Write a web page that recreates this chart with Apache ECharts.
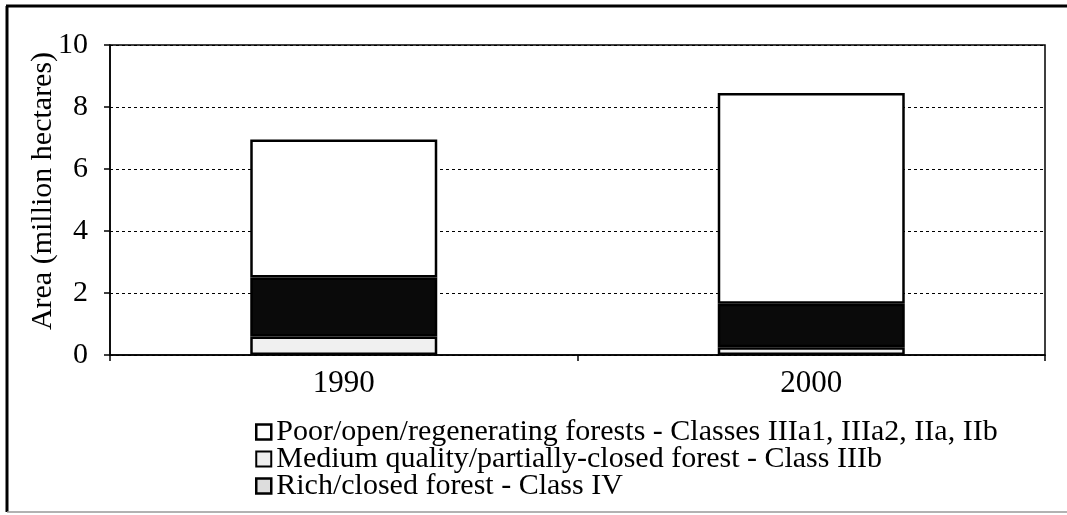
<!DOCTYPE html>
<html>
<head>
<meta charset="utf-8">
<script src="https://cdn.jsdelivr.net/npm/echarts@6/dist/echarts.min.js"></script>
<style>
  html, body { margin: 0; padding: 0; background: #fff; }
  #chart { width: 1067px; height: 515px; }
</style>
</head>
<body>
<div id="chart"></div>
<script>
// data (million hectares)
var years = ['1990', '2000']
var richClosed = [0.6, 0.25]
var mediumQuality = [1.9, 1.4]
var poorOpen = [4.45, 6.8]
var yTicks = [0, 2, 4, 6, 8, 10]

var serif = '"Liberation Serif", "DejaVu Serif", serif'

var chart = echarts.init(document.getElementById('chart'))

var barBorder = { borderColor: '#000', borderWidth: 2.5 }

chart.setOption({
  animation: false,
  backgroundColor: '#fff',
  textStyle: { fontFamily: serif, color: '#000' },
  // scanned page frame: top and left edges dark, bottom faint, no right edge
  graphic: [{
    type: 'line',
    shape: { x1: 6, y1: 6, x2: 1067, y2: 6 },
    style: { stroke: '#000', lineWidth: 3 },
    silent: true
  }, {
    type: 'line',
    shape: { x1: 7, y1: 6, x2: 7, y2: 512 },
    style: { stroke: '#000', lineWidth: 3 },
    silent: true
  }, {
    type: 'line',
    shape: { x1: 7, y1: 512, x2: 1067, y2: 512 },
    style: { stroke: '#999', lineWidth: 1.5 },
    silent: true
  }],
  grid: {
    left: 110,
    right: 22,
    top: 45,
    bottom: 160,
    show: true,
    borderColor: '#000',
    borderWidth: 1.5
  },
  legend: {
    orient: 'vertical',
    left: 255,
    top: 417,
    padding: 0,
    icon: 'rect',
    itemWidth: 15,
    itemHeight: 15,
    itemGap: -3,
    textStyle: { fontFamily: serif, fontSize: 30, lineHeight: 27, color: '#000' },
    data: [
      { name: 'Poor/open/regenerating forests - Classes IIIa1, IIIa2, IIa, IIb', itemStyle: { color: '#fff', borderColor: '#000', borderWidth: 2.5 } },
      { name: 'Medium quality/partially-closed forest - Class IIIb', itemStyle: { color: '#eee', borderColor: '#000', borderWidth: 2 } },
      { name: 'Rich/closed forest - Class IV', itemStyle: { color: '#ddd', borderColor: '#000', borderWidth: 2.5 } }
    ]
  },
  xAxis: {
    type: 'category',
    data: years,
    axisLine: { lineStyle: { color: '#000', width: 1.5 } },
    axisTick: { show: true, length: 6, lineStyle: { color: '#000', width: 1.5 } },
    axisLabel: { fontFamily: serif, fontSize: 31, color: '#000', margin: 13 }
  },
  yAxis: {
    type: 'value',
    min: yTicks[0],
    max: yTicks[yTicks.length - 1],
    interval: 2,
    name: 'Area (million hectares)',
    nameLocation: 'middle',
    nameGap: 52,
    nameMoveOverlap: false,
    nameTextStyle: { fontFamily: serif, fontSize: 30, color: '#000', padding: [0, 0, 0, 18] },
    axisLine: { show: true, lineStyle: { color: '#000', width: 1.5 } },
    axisTick: { show: true, length: 6, lineStyle: { color: '#000', width: 1.5 } },
    axisLabel: { fontFamily: serif, fontSize: 30, color: '#000', margin: 22 },
    splitLine: { show: true, lineStyle: { color: '#000', type: [3, 3], width: 1 } }
  },
  series: [{
    name: 'Rich/closed forest - Class IV',
    type: 'bar',
    stack: 'area',
    barWidth: '40%',
    itemStyle: Object.assign({ color: '#f0f0f0' }, barBorder),
    data: richClosed
  }, {
    name: 'Medium quality/partially-closed forest - Class IIIb',
    type: 'bar',
    stack: 'area',
    itemStyle: Object.assign({ color: '#0a0a0a' }, barBorder),
    data: mediumQuality
  }, {
    name: 'Poor/open/regenerating forests - Classes IIIa1, IIIa2, IIa, IIb',
    type: 'bar',
    stack: 'area',
    itemStyle: Object.assign({ color: '#fff' }, barBorder),
    data: poorOpen
  }]
})
</script>
</body>
</html>
